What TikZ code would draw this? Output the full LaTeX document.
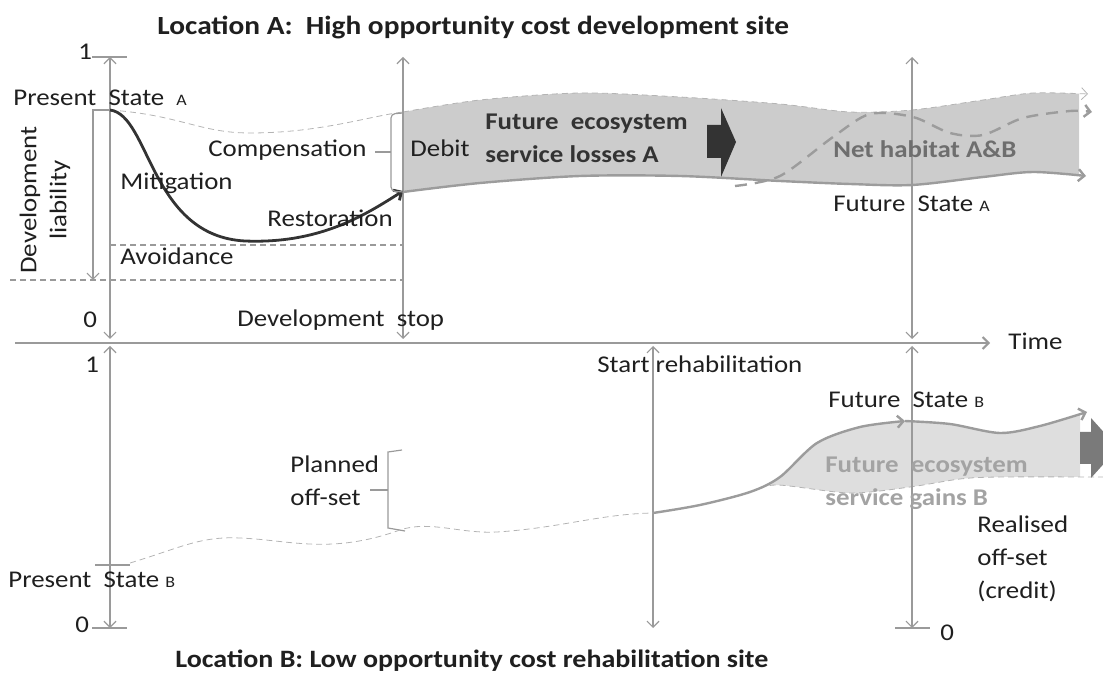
\documentclass[tikz,border=0pt]{standalone}
\usepackage{fontspec}
\setmainfont{Carlito}[FakeStretch=1.12]
\definecolor{axgray}{HTML}{9A9A9A}
\definecolor{curvedark}{HTML}{333333}
\definecolor{bandA}{HTML}{CCCCCC}
\definecolor{bandB}{HTML}{DEDEDE}
\definecolor{edgegray}{HTML}{9C9C9C}
\definecolor{dashlight}{HTML}{B4B4B4}
\definecolor{txtmid}{HTML}{6E6E6E}
\definecolor{txtlight}{HTML}{A3A3A3}
\definecolor{arrowB}{HTML}{7A7A7A}
\newcommand{\stsub}[1]{{\fontsize{8}{8}\selectfont #1}}
\usetikzlibrary{arrows.meta}

\begin{document}
\begin{tikzpicture}[x=0.5pt,y=-0.5pt,
  font=\fontsize{12}{16.5}\selectfont,
  >={Straight Barb[length=3pt,width=6pt]},
  ax/.style={axgray,line width=0.6pt},
  lbl/.style={anchor=base west,inner sep=0pt,text=black!88},
  ttl/.style={lbl,font=\fontsize{12.5}{14}\selectfont\bfseries}]
  \useasboundingbox (0,0) rectangle (1103,673);
  % points on the axes
  \coordinate (topL) at (110,57);  \coordinate (midL) at (110,339);
  \coordinate (topS) at (403,57);  \coordinate (midS) at (403,339);
  \coordinate (topR) at (912,57);  \coordinate (midR) at (912,339);
  \coordinate (lowL) at (110,346); \coordinate (botL) at (110,628);
  \coordinate (lowH) at (653,346); \coordinate (botH) at (653,628);
  \coordinate (lowR) at (912,346); \coordinate (botR) at (912,628);
  \coordinate (presA) at (110,110);
  \coordinate (presB) at (110,565);
  % band of losses A
  \begin{scope}
    \clip (403,0) rectangle (1079,300);
    \fill[bandA] plot[smooth] coordinates {(403,112) (480,100) (580,93) (680,97) (780,104) (850,112) (912,110) (983,100) (1033,93) (1088,94)}
      -- plot[smooth] coordinates {(1086,176) (1033,172) (983,177) (912,185) (850,184) (780,181) (680,176) (580,176) (480,183) (403,192)} -- cycle;
  \end{scope}
  \draw[dashlight,dash pattern=on 3pt off 2pt,->] plot[smooth] coordinates {(403,112) (480,100) (580,93) (680,97) (780,104) (850,112) (912,110) (983,100) (1033,93) (1088,94)};
  \draw[edgegray,line width=1.2pt,->] plot[smooth] coordinates {(403,192) (480,183) (580,176) (680,176) (780,181) (850,184) (912,185) (983,177) (1033,172) (1086,176)};
  % net habitat
  \draw[edgegray,line width=1.2pt,dash pattern=on 6pt off 4pt,->] plot[smooth] coordinates {(735,186) (780,176) (833,137) (870,114) (913,117) (950,133) (983,135) (1023,118) (1070,111) (1092,112)};
  \fill[curvedark] (707,125) -- (721,125) -- (721,108) -- (736,142) -- (721,177) -- (721,158) -- (707,158) -- cycle;
  % band of gains B
  \begin{scope}
    \clip (653,300) rectangle (1080,673);
    \fill[bandB] plot[smooth] coordinates {(653,513) (700,505) (750,492) (780,477) (817,443) (860,427) (905,421) (950,424) (1000,433) (1040,426) (1087,412)}
      -- plot[smooth] coordinates {(1103,477) (1000,477) (960,479) (910,487) (850,493) (777,485) (750,492) (700,505) (653,513)} -- cycle;
  \end{scope}
  \draw[dashlight,dash pattern=on 3pt off 2pt] plot[smooth] coordinates {(653,513) (700,505) (750,492) (777,485) (850,493) (910,487) (960,479) (1000,477) (1103,477)};
  \draw[edgegray,line width=1.2pt,->] plot[smooth] coordinates {(653,513) (700,505) (750,492) (780,477) (817,443) (860,427) (905,421)};
  \draw[edgegray,line width=1.2pt,->] plot[smooth] coordinates {(905,421) (950,424) (1000,433) (1040,426) (1087,412)};
  \begin{scope}
    \clip (0,0) rectangle (1103,673);
    \fill[arrowB] (1080,432) -- (1091,432) -- (1091,418) -- (1118,448) -- (1091,478) -- (1091,464) -- (1080,464) -- cycle;
  \end{scope}
  % axes
  \draw[ax,<->] (topL) -- (midL);
  \draw[ax,<->] (topS) -- (midS);
  \draw[ax,<->] (topR) -- (midR);
  \draw[ax,<->] (lowL) -- (botL);
  \draw[ax,<->] (lowH) -- (botH);
  \draw[ax,<->] (lowR) -- (botR);
  \draw[axgray,line width=1pt,->] (15,343) -- (990,343);
  \draw[ax] (92,57) -- (127,57);
  \draw[ax] (92,628) -- (127,628);
  \draw[ax] (895,628) -- (930,628);
  \draw[ax] (95,565) -- (130,565);
  % liability and levels
  \draw[ax,->] (presA) -- (93,110) -- (93,280);
  \draw[ax,dash pattern=on 3pt off 2pt] (10,280) -- (403,280);
  \draw[ax,dash pattern=on 3pt off 2pt] (110,245) -- (403,245);
  \draw[dashlight,dash pattern=on 3pt off 2pt] (presA) .. controls (180,115) and (200,133) .. (250,133) .. controls (320,133) and (370,116) .. (403,112);
  \draw[curvedark,line width=1.4pt,->] (presA) .. controls (150,115) and (150,236) .. (245,241) .. controls (320,244) and (365,215) .. (403,191);
  % brackets
  \draw[ax,rounded corners=2pt] (403,113) -- (391,114) -- (391,191) -- (403,192);
  \draw[ax] (375,152) -- (391,152);
  \draw[ax] (402,450) -- (388,452) -- (388,528) -- (405,531);
  \draw[ax] (370,490) -- (388,490);
  \draw[dashlight,dash pattern=on 3pt off 2pt] (130,563) .. controls (180,548) and (200,536) .. (240,538) .. controls (290,540) and (330,555) .. (400,530) .. controls (430,520) and (460,534) .. (497,532) .. controls (560,528) and (600,514) .. (653,513);
  % labels
  \node[ttl,font=\fontsize{13.1}{14}\selectfont\bfseries] (ttlA) at (157,35) {Location A:\ \ High opportunity cost development site};
  \node[ttl] (ttlB) at (175,667) {Location B: Low opportunity cost rehabilitation site};
  \node[lbl] (oneA) at (78,60) {1};
  \node[lbl] (zeroA) at (83,328) {0};
  \node[lbl] (oneB) at (85,373) {1};
  \node[lbl] (zeroB) at (75,632) {0};
  \node[lbl] (zeroR) at (940,640) {0};
  \node[lbl] (presAlbl) at (13,106) {Present\ \ State\ \ \stsub{A}};
  \node[lbl,rotate=90,anchor=center,align=center,font=\fontsize{12}{15}\selectfont] (liab) at (45,200) {Development\\liability};
  \node[lbl] (comp) at (208,157) {Compensation};
  \node[lbl] (mitig) at (120,190) {Mitigation};
  \node[lbl] (restor) at (267,227) {Restoration};
  \node[lbl] (avoid) at (120,265) {Avoidance};
  \node[lbl] (devstop) at (237,327) {Development\ \ stop};
  \node[lbl] (debit) at (410,157) {Debit};
  \node[lbl,align=left,font=\fontsize{12}{16.5}\selectfont\bfseries,text=curvedark] (lossA) at (485,163) {Future\ \ ecosystem\\service losses A};
  \node[lbl,font=\fontsize{12}{16.5}\selectfont\bfseries,text=txtmid] (netAB) at (833,158) {Net habitat A\&B};
  \node[lbl] (futA) at (833,212) {Future\ \ State \stsub{A}};
  \node[lbl] (time) at (1008,350) {Time};
  \node[lbl] (startreh) at (597,373) {Start rehabilitation};
  \node[lbl,align=left] (planned) at (290,505) {Planned\\off-set};
  \node[lbl] (presBlbl) at (8,587) {Present\ \ State \stsub{B}};
  \node[lbl] (futB) at (828,408) {Future\ \ State \stsub{B}};
  \node[lbl,align=left,font=\fontsize{12}{16.5}\selectfont\bfseries,text=txtlight] (gainsB) at (825,505) {Future\ \ ecosystem\\service gains B};
  \node[lbl,align=left] (realised) at (977,598) {Realised\\off-set\\(credit)};
\end{tikzpicture}
\end{document}
